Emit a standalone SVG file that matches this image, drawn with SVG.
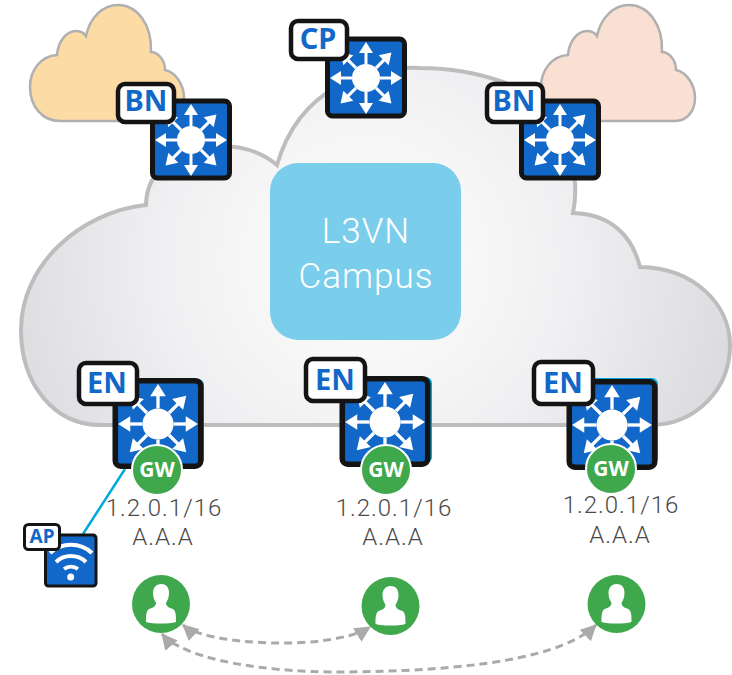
<svg xmlns="http://www.w3.org/2000/svg" width="732" height="675" viewBox="0 0 732 675">
<style>
.b{fill:#fff;stroke:#141414;stroke-width:4.5}
.bt{font-family:"Noto Sans","Liberation Sans",sans-serif;font-weight:700;font-size:29px;fill:#1268c8;text-anchor:middle}
.gt{font-family:"Noto Sans","Liberation Sans",sans-serif;font-weight:700;font-size:21px;fill:#fff;text-anchor:middle}
.lb{font-family:Roboto,"Liberation Sans",sans-serif;font-weight:300;font-size:24px;fill:#4a4a4a;text-anchor:middle;letter-spacing:1px}
.ct{font-family:Roboto,"Liberation Sans",sans-serif;font-weight:300;font-size:35px;fill:#fff;text-anchor:middle;letter-spacing:1px}
.gw{fill:#3fa84c;stroke:#fff;stroke-width:2}
.da{fill:none;stroke:#aaa;stroke-width:3;stroke-dasharray:8 5;marker-start:url(#ah);marker-end:url(#ah)}
.sc{stroke:#b0b0b0;stroke-width:2.5}
.wf{fill:none;stroke:#fff;stroke-width:4}
</style>
<defs>
<radialGradient id="cg" gradientUnits="userSpaceOnUse" cx="366" cy="260" r="370">
<stop offset="0" stop-color="#fff"/><stop offset=".55" stop-color="#f0f0f2"/><stop offset="1" stop-color="#dcdce0"/>
</radialGradient>
<marker id="ah" viewBox="0 0 16 16" refX="15" refY="8" markerWidth="16" markerHeight="16" markerUnits="userSpaceOnUse" orient="auto-start-reverse">
<path d="M0 0L16 8L0 16Z" fill="#aaa"/>
</marker>
<g id="ar"><path d="M0 -14V-26" stroke="#fff" stroke-width="3"/><path d="M0 -36L7 -25H-7Z" fill="#fff"/></g>
<g id="router">
<rect x="-38.500" y="-39" width="77" height="77" rx="5" fill="#1268c8" stroke="#141414" stroke-width="5"/>
<use href="#ar"/><use href="#ar" transform="rotate(45)"/><use href="#ar" transform="rotate(90)"/><use href="#ar" transform="rotate(135)"/><use href="#ar" transform="rotate(180)"/><use href="#ar" transform="rotate(225)"/><use href="#ar" transform="rotate(270)"/><use href="#ar" transform="rotate(315)"/>
<circle r="14" fill="#fff"/>
</g>
<path id="sc" d="M60 121C42 121 30 106 30 87C30 70 41 56 57 55C58 42 66 31 76 31C80 31 84 33 86 36C90 17 103 5 118 5C137 5 152 24 151 52C158 52 165 60 165 70C175 72 184 84 184 98C184 111 176 121 164 121Z"/>
<g id="user">
<circle r="29" fill="#3fa84c"/>
<path d="M-8 -11C-8 -17 -4 -20 0 -20C5 -20 8 -17 8 -11C8 -6 6 -3 5 -1C5 2 8 4 12 5C15 7 15 12 15 18C8 20 -8 20 -15 18C-15 12 -15 7 -12 5C-8 4 -5 2 -5 -1C-6 -3 -8 -6 -8 -11Z" fill="#fff"/>
</g>
</defs>

<g id="cloud-left"><use href="#sc" fill="#fddba4" class="sc"/></g>
<g id="cloud-right"><use href="#sc" x="511" fill="#fadfd3" class="sc"/></g>
<g id="cloud-main">
<path d="M100 425H650C695 425 730 390 730 345C730 305 695 268 640 267C632 235 610 214 573 213C582 170 565 105 503 82C475 72 450 68 420 68C370 66 300 85 277 165C262 152 242 146 220 146C180 146 146 170 146 205C80 212 21 265 21 330C21 385 55 425 100 425Z" fill="url(#cg)" stroke="#bdbdbd" stroke-width="4"/>
</g>
<g id="campus">
<rect x="270" y="163" width="191" height="177" rx="28" fill="#7bcdec"/>
<text class="ct" x="366" y="243">L3VN</text>
<text class="ct" x="366" y="288">Campus</text>
</g>

<g id="connectors">
<path d="M125 469L83 534" fill="none" stroke="#00a8e0" stroke-width="2.500"/>
<path class="da" d="M183 625C205 645 330 652 370 627"/>
<path class="da" d="M162 634C175 650 225 670 330 672C430 672 555 665 596 625"/>
</g>

<g id="bn1"><use href="#router" x="191" y="140"/><rect class="b" x="118" y="84" width="56" height="38" rx="7"/><text class="bt" x="146" y="111">BN</text></g>
<g id="cp"><use href="#router" x="366" y="78"/><rect class="b" x="291" y="21" width="56" height="38" rx="7"/><text class="bt" x="318" y="49">CP</text></g>
<g id="bn2"><use href="#router" x="560" y="140"/><rect class="b" x="487" y="84" width="56" height="38" rx="7"/><text class="bt" x="514" y="111">BN</text></g>

<g id="en1">
<rect x="118" y="379" width="86" height="86" rx="6" fill="#00a8e0"/>
<use href="#router" transform="translate(158 424) scale(1.11)"/>
<rect class="b" x="79" y="363" width="58" height="41" rx="7"/><text class="bt" x="107" y="393">EN</text>
<circle class="gw" cx="157" cy="470" r="25"/><text class="gt" x="157" y="477">GW</text>
<text class="lb" x="164" y="516">1.2.0.1/16</text><text class="lb" x="163" y="545">A.A.A</text>
</g>
<g id="en2">
<rect x="345" y="377" width="87" height="86" rx="6" fill="#00a8e0"/>
<use href="#router" transform="translate(385 422) scale(1.11)"/>
<rect class="b" x="306" y="359" width="59" height="42" rx="7"/><text class="bt" x="335" y="390">EN</text>
<circle class="gw" cx="386" cy="470" r="25"/><text class="gt" x="386" y="477">GW</text>
<text class="lb" x="394" y="516">1.2.0.1/16</text><text class="lb" x="393" y="545">A.A.A</text>
</g>
<g id="en3">
<rect x="572" y="378" width="86" height="86" rx="6" fill="#00a8e0"/>
<use href="#router" transform="translate(612 425) scale(1.11)"/>
<rect class="b" x="534" y="362" width="59" height="42" rx="7"/><text class="bt" x="563" y="393">EN</text>
<circle class="gw" cx="611" cy="469" r="25"/><text class="gt" x="611" y="476">GW</text>
<text class="lb" x="621" y="513">1.2.0.1/16</text><text class="lb" x="620" y="543">A.A.A</text>
</g>

<g id="ap">
<rect x="45.500" y="535" width="50.500" height="51" rx="3" fill="#1268c8" stroke="#141414" stroke-width="3"/>
<path class="wf" d="M50 553A31 31 0 0 1 92 553"/><path class="wf" d="M56 562A22 22 0 0 1 86 562"/><path class="wf" d="M64 569A12 12 0 0 1 78 569"/>
<circle cx="70.700" cy="577" r="3.500" fill="#fff"/>
<rect class="b" x="24.500" y="524.500" width="35" height="25" rx="4" style="stroke-width:3"/>
<text class="bt" x="42" y="543" style="font-size:19px">AP</text>
</g>

<g id="user1"><use href="#user" x="161" y="604"/></g>
<g id="user2"><use href="#user" x="390.500" y="606"/></g>
<g id="user3"><use href="#user" x="616.500" y="604"/></g>
</svg>
